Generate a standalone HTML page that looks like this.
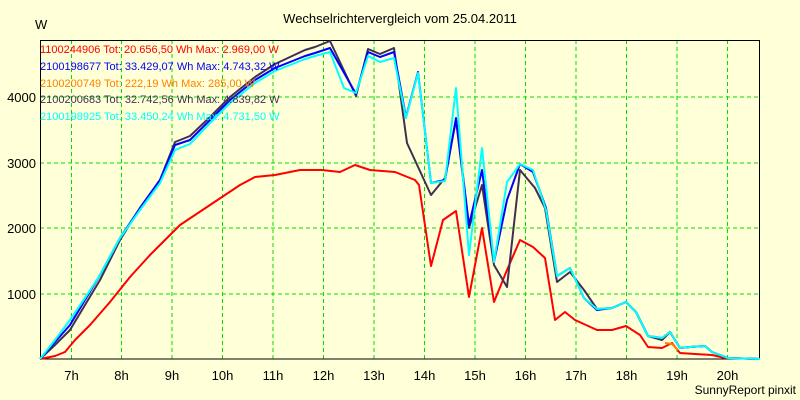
<!DOCTYPE html><html><head><style>body{margin:0;background:#ffffd8}svg{display:block}text{font-family:"Liberation Sans",sans-serif;font-size:12px;fill:#000}</style></head><body>
<svg width="800" height="400" viewBox="0 0 800 400">
<rect width="800" height="400" fill="#ffffd8"/>
<g stroke="#00e000" stroke-dasharray="4,3" stroke-width="1">
<line x1="40" x2="760" y1="294" y2="294"/><line x1="40" x2="760" y1="228" y2="228"/><line x1="40" x2="760" y1="163" y2="163"/><line x1="40" x2="760" y1="97" y2="97"/>
<line x1="71.5" x2="71.5" y1="40" y2="359"/><line x1="121.5" x2="121.5" y1="40" y2="359"/><line x1="172" x2="172" y1="40" y2="359"/><line x1="222.5" x2="222.5" y1="40" y2="359"/><line x1="273" x2="273" y1="40" y2="359"/><line x1="323.5" x2="323.5" y1="40" y2="359"/><line x1="374" x2="374" y1="40" y2="359"/><line x1="424.5" x2="424.5" y1="40" y2="359"/><line x1="475" x2="475" y1="40" y2="359"/><line x1="525.5" x2="525.5" y1="40" y2="359"/><line x1="576" x2="576" y1="40" y2="359"/><line x1="626.5" x2="626.5" y1="40" y2="359"/><line x1="677" x2="677" y1="40" y2="359"/><line x1="727.5" x2="727.5" y1="40" y2="359"/>
</g>
<rect x="40.5" y="40.5" width="719" height="318.5" fill="none" stroke="#000"/>
<text x="400" y="23" text-anchor="middle" style="font-size:13px">Wechselrichtervergleich vom 25.04.2011</text>
<text x="35" y="29" style="font-size:13px">W</text>
<g text-anchor="end" style="font-size:13px"><text x="36" y="299" style="font-size:13px">1000</text><text x="36" y="233" style="font-size:13px">2000</text><text x="36" y="168" style="font-size:13px">3000</text><text x="36" y="102" style="font-size:13px">4000</text></g>
<g text-anchor="middle"><text x="71.5" y="380" style="font-size:13px">7h</text><text x="121.5" y="380" style="font-size:13px">8h</text><text x="172" y="380" style="font-size:13px">9h</text><text x="222.5" y="380" style="font-size:13px">10h</text><text x="273" y="380" style="font-size:13px">11h</text><text x="323.5" y="380" style="font-size:13px">12h</text><text x="374" y="380" style="font-size:13px">13h</text><text x="424.5" y="380" style="font-size:13px">14h</text><text x="475" y="380" style="font-size:13px">15h</text><text x="525.5" y="380" style="font-size:13px">16h</text><text x="576" y="380" style="font-size:13px">17h</text><text x="626.5" y="380" style="font-size:13px">18h</text><text x="677" y="380" style="font-size:13px">19h</text><text x="727.5" y="380" style="font-size:13px">20h</text></g>
<text x="796" y="394" text-anchor="end" style="font-size:12px">SunnyReport pinxit</text>
<g fill="none" stroke-width="2" stroke-linejoin="round">
<polyline stroke="#ff0000" points="40,359 55,356 65,352 75,340 90,325 110,302 130,277 150,255 165,240 180,225 195,215 210,205 225,195 240,185 255,177 275,175 300,170 322,170 340,172 355,165 370,170 395,172 415,180 419,185 431,266 443,220 456,211 469,297 482,228 494,302 507,270 520,240 533,247 545,258 555,320 565,312 575,320 597,330 612,330 626,326 640,335 648,347 662,348 672,343 680,353 695,354 712,355 725,358 760,359"/>
<polyline stroke="#ff8000" points="665,343 672,344 678,350"/>
<polyline stroke="#403050" points="40,359 55,345 70,330 85,305 100,280 120,240 140,208 160,180 175,142 190,136 210,117 230,97 255,77 275,64 290,57 305,50 315,47 330,41 356,96 368,49 380,54 394,48 407,143 431,195 445,178 456,120 469,228 482,185 494,265 507,287 520,170 535,188 545,208 557,282 570,272 584,290 597,309 612,308 626,302 636,312 648,336 662,340 670,332 680,348 690,347 705,346 712,352 728,358 760,359"/>
<polyline stroke="#0000ff" points="40,359 55,342 70,325 85,300 100,275 120,238 140,208 160,180 175,145 190,140 210,120 230,100 255,80 275,68 290,62 305,56 315,53 330,48 356,94 368,52 380,57 394,52 406,117 418,72 431,183 445,180 456,118 469,225 482,170 494,262 507,200 520,164 533,172 546,208 557,276 570,268 584,298 597,310 612,308 626,302 636,312 648,336 662,338 670,332 680,348 690,347 705,346 712,352 728,358 760,359"/>
<polyline stroke="#00ffff" points="40,359 55,340 70,320 85,298 100,275 120,238 140,210 160,183 175,150 190,144 210,123 230,103 255,83 275,71 290,65 305,59 315,56 330,52 344,88 356,93 368,56 380,62 394,58 406,118 418,73 431,183 445,181 456,88 469,255 482,148 494,262 507,182 520,164 533,170 546,210 557,276 570,268 584,298 597,309 612,308 626,302 636,312 648,336 662,338 670,332 680,348 690,347 705,346 712,352 728,358 760,359"/>
</g>
<g style="font-size:11px">
<text x="40" y="53" style="fill:#ff0000;font-size:11px">1100244906 Tot: 20.656,50 Wh Max: 2.969,00 W</text>
<text x="40" y="70" style="fill:#0000ff;font-size:11px">2100198677 Tot: 33.429,07 Wh Max: 4.743,32 W</text>
<text x="40" y="87" style="fill:#ff8000;font-size:11px">2100200749 Tot: 222,19 Wh Max: 285,00 W</text>
<text x="40" y="103" style="fill:#403050;font-size:11px">2100200683 Tot: 32.742,56 Wh Max: 4.839,82 W</text>
<text x="40" y="120" style="fill:#00ffff;font-size:11px">2100198925 Tot: 33.450,24 Wh Max: 4.731,50 W</text>
</g>
</svg></body></html>
